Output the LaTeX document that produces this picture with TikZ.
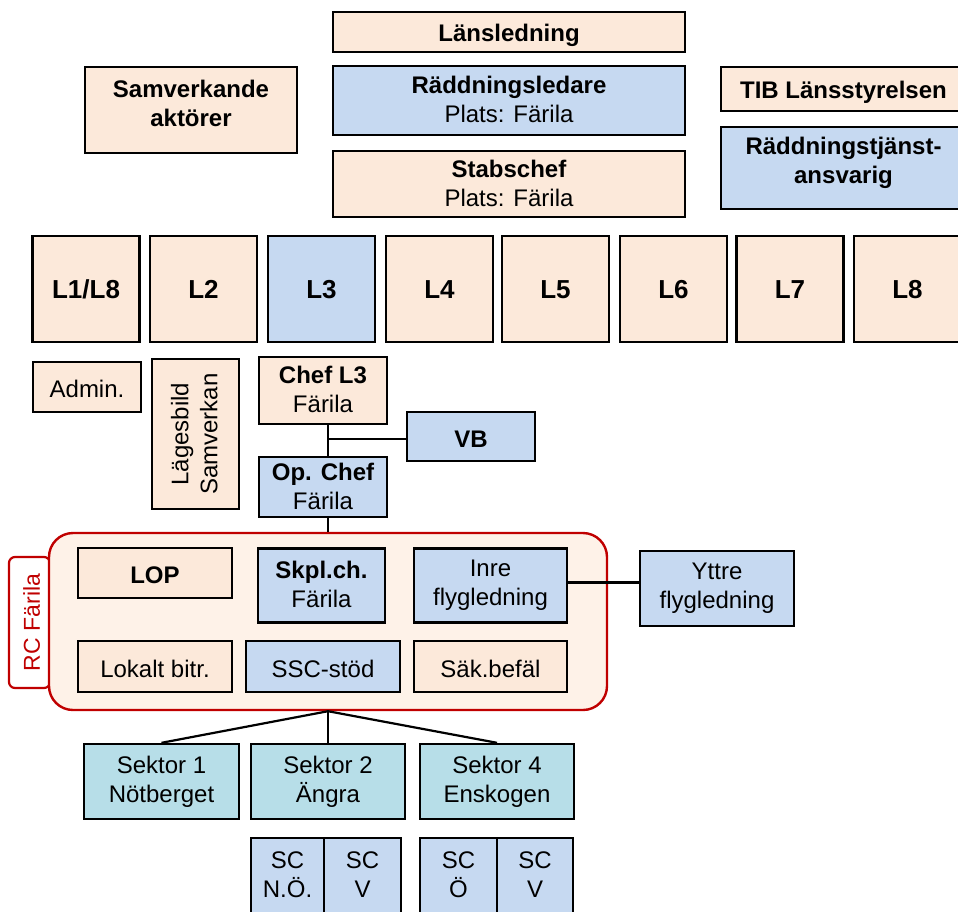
\documentclass[tikz,border=0pt]{standalone}
\usepackage{fontspec}
\setmainfont{Liberation Sans}
\definecolor{peach}{HTML}{FCE9DA}
\definecolor{lblue}{HTML}{C6D9F1}
\definecolor{sektorc}{HTML}{B7DEE8}
\definecolor{rcfill}{HTML}{FEF2E8}
\definecolor{rcred}{HTML}{C00000}
\newcommand\mystrut{\rule[-0.1em]{0pt}{1.1em}}
\tikzset{
  box/.style={draw=black, line width=2.4pt, inner sep=0pt, align=center,
    font=\fontsize{24}{29}\selectfont,
    execute at begin node=\mystrut, execute at end node=\mystrut},
  pbox/.style={box, fill=peach},
  bbox/.style={box, fill=lblue},
  sbox/.style={box, fill=sektorc},
  raisetxt/.style={execute at end node={\rule[-#1]{0pt}{0pt}}},
  lbig/.style={font=\fontsize{26}{31}\selectfont\bfseries, minimum width=107pt, minimum height=106pt, raisetxt=6.6pt},
  conn/.style={draw=black, line width=2.2pt},
}
\begin{document}
\begin{tikzpicture}[x=1pt,y=-1pt]
\clip (0,0) rectangle (958,911);
\fill[white] (0,0) rectangle (958,911);
% top
\node[pbox, minimum width=352pt, minimum height=40pt] (lans) at (509,32) {\textbf{Länsledning}};
\node[bbox, minimum width=352pt, minimum height=69pt] (rl) at (509,100.5) {\textbf{Räddningsledare}\\Plats: Färila};
\node[pbox, minimum width=352pt, minimum height=66pt] (stab) at (509,184) {\textbf{Stabschef}\\Plats: Färila};
\node[pbox, minimum width=212pt, minimum height=86pt, raisetxt=14pt] (samv) at (191,110) {\textbf{Samverkande}\\\textbf{aktörer}};
\node[pbox, minimum width=245pt, minimum height=44pt] (tib) at (843.5,89) {\textbf{TIB Länsstyrelsen}};
\node[bbox, minimum width=245pt, minimum height=82pt, raisetxt=15pt] (rta) at (843.5,168) {\textbf{Räddningstjänst-}\\\textbf{ansvarig}};
% L row
\node[pbox, lbig] (l1) at (86,289) {L1/L8};
\node[pbox, lbig] (l2) at (203.5,289) {L2};
\node[bbox, lbig] (l3) at (321.5,289) {L3};
\node[pbox, lbig] (l4) at (439.5,289) {L4};
\node[pbox, lbig] (l5) at (555.5,289) {L5};
\node[pbox, lbig] (l6) at (673.5,289) {L6};
\node[pbox, lbig] (l7) at (790,289) {L7};
\node[pbox, lbig] (l8) at (907.5,289) {L8};
% middle
\node[pbox, minimum width=108pt, minimum height=50pt] (admin) at (87,387) {Admin.};
\node[pbox, rotate=90, minimum width=150pt, minimum height=87pt] (lage) at (195.5,434) {Lägesbild\\Samverkan};
\node[pbox, minimum width=128pt, minimum height=67pt] (chef) at (323,390.5) {\textbf{Chef L3}\\Färila};
\node[bbox, minimum width=128pt, minimum height=60pt] (op) at (323,487) {\textbf{Op. Chef}\\Färila};
\node[bbox, minimum width=128pt, minimum height=49pt] (vb) at (471,436.5) {\textbf{VB}};
\coordinate (sp) at (328,0);
% RC Färila
\node[draw=rcred, fill=white, line width=2.2pt, rounded corners=6pt, rotate=90,
  minimum width=131pt, minimum height=41pt, inner sep=0pt, text=rcred,
  font=\fontsize{23}{27}\selectfont] (tab) at (29.5,622.5) {\mystrut RC Färila};
\node[draw=rcred, fill=rcfill, line width=2.4pt, rounded corners=24pt,
  minimum width=558pt, minimum height=177pt, inner sep=0pt] (rc) at (328,621.5) {};
\node[pbox, minimum width=154pt, minimum height=50pt] (lop) at (155,573) {\textbf{LOP}};
\node[bbox, minimum width=127pt, minimum height=74pt] (skpl) at (321.5,585.5) {\textbf{Skpl.ch.}\\Färila};
\node[bbox, minimum width=153pt, minimum height=74pt] (inre) at (490.5,585.5) {Inre\\flygledning};
\node[pbox, minimum width=154pt, minimum height=51pt] (lok) at (155,666.5) {Lokalt bitr.};
\node[bbox, minimum width=154pt, minimum height=51pt] (ssc) at (323,666.5) {SSC-stöd};
\node[pbox, minimum width=153pt, minimum height=51pt] (sak) at (490.5,666.5) {Säk.befäl};
\node[bbox, minimum width=154pt, minimum height=75pt] (yttre) at (717,588.5) {Yttre\\flygledning};
% sectors
\node[sbox, minimum width=155pt, minimum height=75pt] (s1) at (161.5,781.5) {Sektor 1\\Nötberget};
\node[sbox, minimum width=154pt, minimum height=75pt] (s2) at (328,781.5) {Sektor 2\\Ängra};
\node[sbox, minimum width=154pt, minimum height=75pt] (s4) at (497,781.5) {Sektor 4\\Enskogen};
\node[bbox, minimum width=73pt, minimum height=76pt] (scno) at (287.5,876) {SC\\N.Ö.};
\node[bbox, minimum width=77pt, minimum height=76pt] (scv1) at (362.5,876) {SC\\V};
\node[bbox, minimum width=77pt, minimum height=76pt] (sco) at (458.5,876) {SC\\Ö};
\node[bbox, minimum width=76pt, minimum height=76pt] (scv2) at (535,876) {SC\\V};
% connectors
\draw[conn] (chef.south -| sp) -- (op.north -| sp);
\draw[conn] ([yshift=-2.5pt]vb.west) -- ([yshift=-2.5pt]vb.west -| sp);
\draw[conn] (op.south -| sp) -- (rc.north);
\draw[conn] ([yshift=3pt]inre.east) -- ([yshift=3pt]inre.east -| yttre.west);
\draw[conn] (rc.south) -- (s1.north);
\draw[conn] (rc.south) -- (s2.north);
\draw[conn] (rc.south) -- (s4.north);
\end{tikzpicture}
\end{document}
